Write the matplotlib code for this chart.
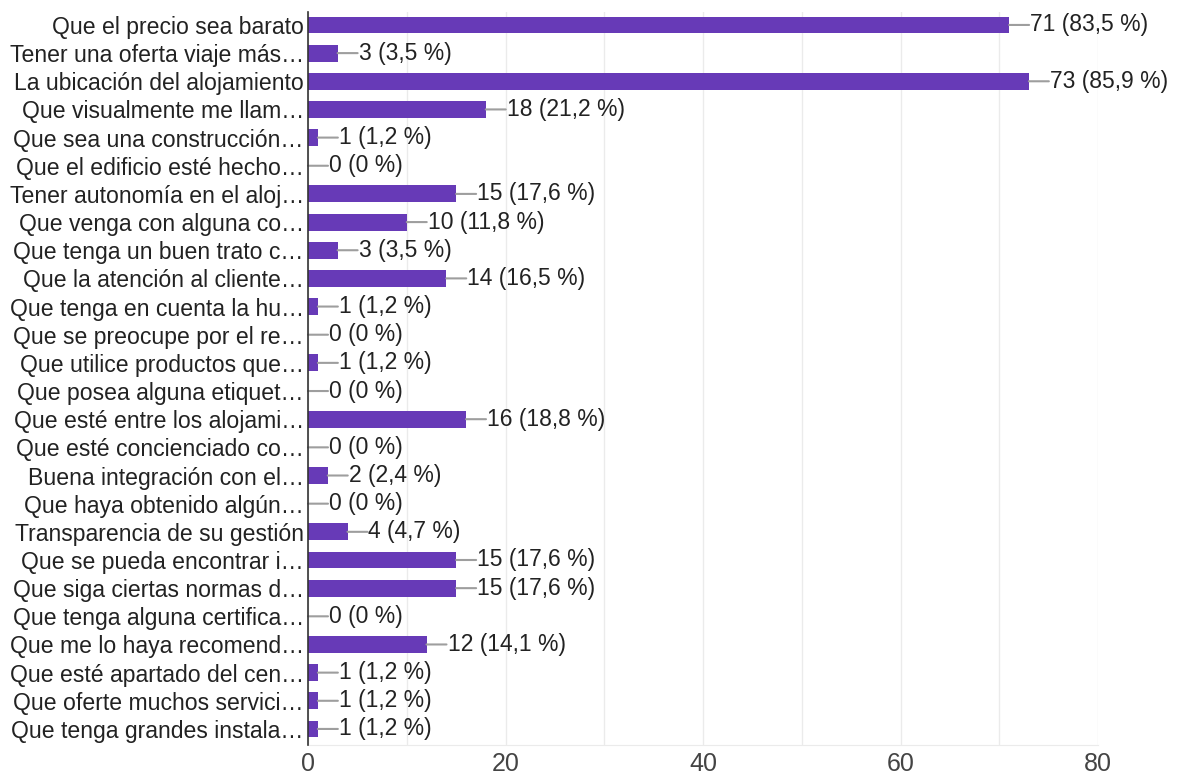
import matplotlib
matplotlib.use("Agg")
import matplotlib.pyplot as plt

categories = [
    "Que el precio sea barato",
    "Tener una oferta viaje más…",
    "La ubicación del alojamiento",
    "Que visualmente me llam…",
    "Que sea una construcción…",
    "Que el edificio esté hecho…",
    "Tener autonomía en el aloj…",
    "Que venga con alguna co…",
    "Que tenga un buen trato c…",
    "Que la atención al cliente…",
    "Que tenga en cuenta la hu…",
    "Que se preocupe por el re…",
    "Que utilice productos que…",
    "Que posea alguna etiquet…",
    "Que esté entre los alojami…",
    "Que esté concienciado co…",
    "Buena integración con el…",
    "Que haya obtenido algún…",
    "Transparencia de su gestión",
    "Que se pueda encontrar i…",
    "Que siga ciertas normas d…",
    "Que tenga alguna certifica…",
    "Que me lo haya recomend…",
    "Que esté apartado del cen…",
    "Que oferte muchos servici…",
    "Que tenga grandes instala…",
]
counts = [71, 3, 73, 18, 1, 0, 15, 10, 3, 14, 1, 0, 1, 0, 16, 0, 2, 0, 4, 15, 15, 0, 12, 1, 1, 1]
percents = ["83,5", "3,5", "85,9", "21,2", "1,2", "0", "17,6", "11,8", "3,5", "16,5",
            "1,2", "0", "1,2", "0", "18,8", "0", "2,4", "0", "4,7", "17,6", "17,6", "0",
            "14,1", "1,2", "1,2", "1,2"]
x_ticks = [0, 20, 40, 60, 80]

plt.rcParams['font.family'] = ['Liberation Sans', 'DejaVu Sans']

fig = plt.figure(figsize=(11.82, 7.81), dpi=100)
ax = fig.add_axes([308/1182, 1-745/781, (1098-308)/1182, (745-12)/781])

y = list(range(len(categories)))
ax.barh(y, counts, height=0.6, color="#673ab7", zorder=3)

for yi, c, p in zip(y, counts, percents):
    ax.annotate("", xy=(c, yi), xytext=(20, 0), textcoords="offset pixels",
                arrowprops=dict(arrowstyle="-", color="#9e9e9e", lw=1.5,
                                shrinkA=0, shrinkB=0), zorder=4)
    ax.annotate(f"{c} ({p} %)", xy=(c, yi), xytext=(21, 0), textcoords="offset pixels",
                ha="left", va="center", fontsize=16.5, color="#222222", zorder=5)

ax.set_xlim(0, 80)
ax.set_ylim(25.57, -0.46)
ax.set_yticks(y)
ax.set_yticklabels(categories, fontsize=16.6, color="#222222")
ax.set_xticks(x_ticks)
ax.set_xticklabels([str(t) for t in x_ticks], fontsize=18, color="#444444")
ax.set_xticks(range(0, 81, 10), minor=True)
ax.tick_params(axis="both", which="both", length=0, pad=3)
ax.tick_params(axis="x", which="both", pad=5)
ax.grid(axis="x", which="both", color="#ebebeb", lw=1, zorder=0)
for s in ["top", "right"]:
    ax.spines[s].set_visible(False)
ax.spines["bottom"].set_color("#ebebeb")
ax.spines["left"].set_color("#333333")
ax.spines["left"].set_linewidth(1.2)
ax.spines["left"].set_zorder(6)

fig.savefig("out.png", dpi=100)
